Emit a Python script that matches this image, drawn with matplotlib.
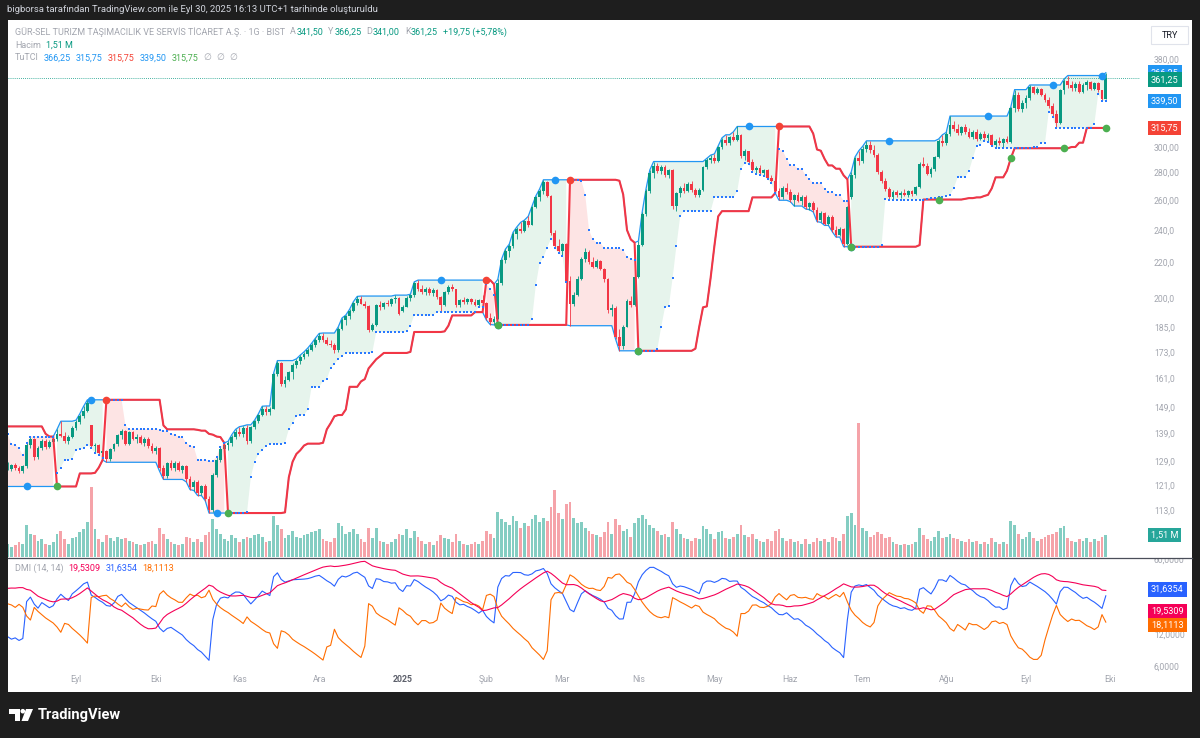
import numpy as np
import pandas as pd
import matplotlib
matplotlib.use("Agg")
import matplotlib.pyplot as plt
from matplotlib.patches import Rectangle, Polygon, Ellipse
from matplotlib.lines import Line2D
from matplotlib.transforms import blended_transform_factory, offset_copy

plt.rcParams["font.family"] = ["Roboto", "DejaVu Sans"]

# ---------------- data (daily bars, first 12 are warm-up bars left of the view) ----------------
WARMUP = 12

opens = [
    136.0, 137.4, 139.0, 138.4, 134.6, 133.2, 132.4, 130.2, 127.8, 125.4, 123.6, 122.0,
    126.2, 126.4, 127.6, 126.5, 125.6, 127.2, 134.6, 136.9, 130.6, 133.8,
    136.2, 134.0, 135.8, 136.8, 138.6, 138.0, 136.2, 137.8, 141.0, 143.4,
    145.8, 147.5, 142.0, 134.2, 134.8, 131.8, 132.5, 129.8, 133.2, 135.0,
    138.2, 139.8, 135.2, 139.5, 137.0, 137.8, 135.6, 137.0, 134.3, 132.6,
    133.6, 126.5, 123.8, 128.2, 126.5, 128.4, 126.0, 127.2, 122.8, 120.2,
    121.8, 118.3, 120.5, 116.5, 113.0, 124.2, 129.5, 133.2, 134.8, 135.4,
    137.8, 139.6, 138.6, 141.0, 136.0, 141.2, 143.5, 146.0, 148.4, 147.0,
    148.5, 162.8, 167.8, 158.6, 160.5, 163.8, 167.2, 168.8, 170.6, 172.2,
    174.0, 176.4, 178.8, 180.6, 178.4, 176.8, 176.2, 173.8, 184.2, 188.6,
    190.4, 193.2, 197.2, 199.6, 197.0, 195.6, 183.4, 186.2, 196.2, 195.0,
    197.4, 196.6, 199.2, 200.2, 193.2, 195.4, 200.2, 201.4, 208.0, 205.0,
    203.2, 205.0, 202.6, 204.4, 200.5, 196.0, 203.4, 206.2, 204.6, 196.0,
    198.8, 197.8, 199.2, 197.6, 196.4, 198.8, 197.2, 189.6, 187.4, 189.2,
    208.0, 221.2, 226.8, 229.8, 237.6, 240.6, 239.2, 245.8, 243.4, 255.2,
    262.0, 266.4, 272.8, 263.0, 238.0, 230.2, 227.0, 231.2, 209.5, 196.5,
    201.8, 210.6, 221.8, 226.2, 220.4, 217.6, 220.8, 216.4, 210.2, 193.5,
    194.8, 180.2, 175.6, 185.2, 198.6, 196.2, 211.5, 230.8, 250.5, 266.8,
    279.4, 285.2, 281.0, 284.6, 278.0, 281.8, 256.0, 264.8, 268.8, 266.2,
    271.6, 267.4, 263.8, 267.0, 284.2, 289.6, 291.0, 289.2, 300.2, 305.6,
    303.0, 307.8, 306.0, 310.2, 293.0, 296.4, 288.0, 282.2, 283.8, 279.6,
    281.8, 276.2, 274.0, 266.6, 262.4, 268.6, 266.0, 260.2, 263.4, 259.6,
    262.6, 255.2, 257.8, 253.4, 246.6, 251.4, 244.2, 248.8, 240.2, 236.8,
    240.8, 231.0, 262.0, 278.5, 291.2, 288.6, 298.4, 302.0, 297.2, 293.6,
    280.2, 274.0, 268.0, 262.6, 265.8, 263.4, 265.2, 264.0, 266.2, 264.4,
    269.2, 286.6, 285.2, 279.2, 283.0, 292.2, 305.2, 303.0, 310.8, 318.4,
    315.0, 311.2, 316.6, 312.4, 308.2, 312.6, 306.2, 310.4, 307.4, 309.8,
    301.8, 305.2, 303.0, 306.2, 304.4, 333.0, 344.6, 332.4, 337.8, 342.6,
    352.2, 347.2, 351.0, 345.4, 340.2, 334.6, 327.4, 320.2, 349.6, 357.8,
    354.6, 351.2, 355.6, 348.2, 354.4, 357.6, 351.0, 356.2, 349.2, 341.5,
]

highs = [
    138.0, 139.8, 141.6, 138.8, 135.0, 134.8, 133.5, 131.0, 128.6, 126.8, 124.6, 127.0,
    128.6, 128.0, 128.4, 127.3, 127.8, 135.5, 137.8, 137.2, 134.5, 136.8,
    137.0, 136.5, 137.6, 140.5, 143.6, 139.5, 138.5, 141.8, 144.0, 146.5,
    149.5, 152.1, 142.0, 135.5, 135.2, 133.0, 133.0, 133.8, 135.5, 138.8,
    140.5, 140.3, 140.0, 140.0, 138.8, 138.5, 137.8, 137.6, 135.5, 134.5,
    134.0, 127.5, 128.8, 129.5, 129.0, 129.0, 127.8, 127.6, 123.8, 122.6,
    122.5, 121.0, 121.2, 117.3, 124.8, 130.5, 134.0, 135.5, 136.0, 138.5,
    140.5, 141.5, 141.8, 142.2, 141.8, 144.0, 146.5, 149.5, 149.6, 149.0,
    163.4, 169.0, 168.5, 162.0, 164.5, 168.0, 169.8, 171.5, 173.0, 174.8,
    177.0, 179.5, 181.8, 182.0, 180.0, 178.6, 177.0, 185.0, 189.5, 191.0,
    194.0, 198.0, 200.8, 201.0, 198.5, 196.0, 187.0, 197.0, 198.5, 198.0,
    199.0, 199.8, 201.5, 200.6, 196.0, 201.0, 202.0, 208.8, 209.8, 207.0,
    205.8, 206.0, 205.2, 205.0, 201.0, 204.0, 207.0, 207.5, 205.0, 199.5,
    200.5, 200.0, 200.2, 199.5, 199.6, 201.5, 198.0, 192.0, 190.5, 210.2,
    222.0, 228.0, 231.0, 238.5, 242.0, 245.0, 246.5, 249.0, 256.0, 263.0,
    268.0, 274.7, 274.0, 264.0, 240.0, 234.0, 231.5, 232.0, 212.0, 203.0,
    212.0, 223.0, 228.5, 227.5, 223.5, 222.0, 221.5, 217.0, 211.0, 196.5,
    195.5, 184.0, 186.0, 199.5, 201.0, 212.5, 233.0, 252.0, 268.0, 282.0,
    288.5, 287.5, 286.0, 285.5, 283.0, 283.0, 266.0, 270.5, 272.0, 272.8,
    273.5, 269.0, 268.5, 285.0, 291.0, 293.5, 294.5, 301.0, 307.5, 310.0,
    309.0, 312.5, 317.0, 311.0, 298.0, 297.0, 290.5, 285.0, 285.5, 283.0,
    283.0, 278.0, 275.0, 268.5, 270.0, 272.5, 268.0, 264.5, 266.0, 263.8,
    264.0, 259.0, 259.5, 255.0, 252.5, 252.0, 250.0, 250.0, 242.5, 242.0,
    241.5, 256.0, 280.5, 292.0, 297.0, 300.5, 305.0, 304.8, 301.5, 295.0,
    282.0, 276.0, 269.5, 267.0, 267.5, 266.5, 268.0, 267.0, 267.5, 270.0,
    288.0, 292.0, 287.0, 284.5, 293.0, 306.5, 310.0, 312.0, 326.0, 321.5,
    319.0, 317.5, 319.5, 316.0, 314.0, 315.0, 312.0, 313.0, 311.5, 310.5,
    306.5, 308.0, 307.0, 309.0, 334.0, 350.0, 348.0, 340.0, 345.0, 354.4,
    353.5, 352.5, 352.0, 347.0, 343.5, 338.0, 331.0, 350.5, 360.0, 363.5,
    358.5, 357.0, 358.0, 356.0, 359.5, 358.5, 357.5, 357.0, 350.0, 366.25,
]

lows = [
    135.2, 136.5, 137.8, 134.0, 132.0, 131.5, 129.6, 127.2, 124.8, 123.0, 121.0, 120.5,
    125.8, 125.5, 126.0, 124.8, 125.0, 126.8, 133.5, 129.4, 129.8, 133.0,
    133.2, 133.5, 134.8, 136.0, 137.5, 135.5, 135.2, 137.2, 140.2, 142.5,
    145.0, 147.0, 133.5, 132.0, 131.2, 130.0, 128.6, 129.2, 132.5, 134.5,
    137.0, 134.6, 134.8, 136.5, 135.5, 135.0, 134.5, 133.8, 132.0, 131.5,
    125.5, 122.8, 123.2, 125.8, 125.6, 125.5, 124.8, 122.0, 119.5, 119.2,
    117.6, 117.8, 116.0, 112.2, 112.4, 123.5, 128.8, 131.5, 132.8, 134.5,
    136.8, 138.0, 137.8, 135.2, 135.5, 140.5, 142.8, 145.5, 146.2, 146.0,
    148.2, 162.0, 157.8, 157.5, 159.8, 160.8, 165.5, 167.5, 169.6, 171.0,
    173.2, 175.5, 177.5, 177.8, 176.0, 175.5, 172.5, 173.0, 183.5, 186.0,
    189.2, 192.5, 196.0, 196.5, 194.8, 182.5, 182.8, 185.6, 193.6, 194.2,
    195.8, 195.5, 197.5, 190.8, 192.8, 195.0, 198.5, 200.6, 204.0, 202.2,
    201.5, 201.8, 201.0, 199.5, 192.5, 195.5, 202.0, 203.5, 195.2, 195.0,
    197.0, 196.5, 196.8, 195.8, 195.5, 196.0, 188.4, 186.2, 186.0, 188.8,
    207.0, 219.5, 223.0, 229.0, 234.5, 238.0, 238.5, 242.0, 243.0, 254.5,
    259.5, 264.5, 262.0, 236.8, 228.5, 225.5, 224.0, 208.5, 185.6, 195.5,
    201.0, 210.0, 220.0, 219.0, 216.5, 216.8, 215.5, 209.0, 192.0, 190.5,
    179.0, 173.5, 174.5, 185.0, 195.0, 195.5, 211.0, 230.0, 249.0, 265.0,
    276.0, 279.5, 278.8, 276.5, 276.0, 254.0, 252.5, 262.0, 265.0, 265.5,
    266.0, 262.5, 262.0, 266.5, 283.0, 287.0, 287.5, 288.5, 298.5, 302.0,
    301.5, 304.5, 304.8, 291.5, 290.0, 286.5, 280.5, 279.0, 278.5, 277.5,
    275.0, 272.0, 265.0, 260.0, 261.0, 264.5, 259.0, 256.0, 258.5, 257.0,
    254.0, 253.5, 252.0, 245.5, 245.0, 243.0, 243.5, 239.0, 235.5, 236.0,
    229.5, 230.5, 261.0, 276.0, 286.0, 287.5, 296.0, 295.5, 292.0, 279.0,
    272.0, 266.5, 260.5, 261.0, 262.5, 261.5, 263.0, 262.0, 263.0, 263.8,
    268.5, 284.0, 278.0, 276.5, 281.5, 291.0, 301.0, 302.0, 309.0, 313.5,
    309.5, 310.0, 311.0, 307.0, 306.5, 305.0, 305.5, 306.0, 304.0, 300.5,
    299.0, 301.5, 300.0, 303.5, 303.5, 330.0, 330.5, 330.0, 333.0, 340.0,
    346.0, 345.5, 344.0, 339.0, 333.0, 325.0, 315.75, 319.5, 346.0, 352.0,
    349.0, 348.5, 346.5, 347.0, 350.0, 349.5, 350.0, 347.5, 339.5, 341.0,
]

closes = [
    137.4, 139.0, 138.4, 134.6, 133.2, 132.4, 130.2, 127.8, 125.4, 123.6, 122.0, 126.2,
    126.4, 127.6, 126.5, 125.6, 127.2, 134.6, 136.9, 130.6, 133.8, 136.2,
    134.0, 135.8, 136.8, 138.6, 138.0, 136.2, 137.8, 141.0, 143.4, 145.8,
    147.5, 150.8, 134.2, 134.8, 131.8, 132.5, 129.8, 133.2, 135.0, 138.2,
    139.8, 135.2, 139.5, 137.0, 137.8, 135.6, 137.0, 134.3, 132.6, 133.6,
    126.5, 123.8, 128.2, 126.5, 128.4, 126.0, 127.2, 122.8, 120.2, 121.8,
    118.3, 120.5, 116.5, 113.0, 124.2, 129.5, 133.2, 134.8, 135.4, 137.8,
    139.6, 138.6, 141.0, 136.0, 141.2, 143.5, 146.0, 148.4, 147.0, 148.5,
    162.8, 167.8, 158.6, 160.5, 163.8, 167.2, 168.8, 170.6, 172.2, 174.0,
    176.4, 178.8, 180.6, 178.4, 176.8, 176.2, 173.8, 184.2, 188.6, 190.4,
    193.2, 197.2, 199.6, 197.0, 195.6, 183.4, 186.2, 196.2, 195.0, 197.4,
    196.6, 199.2, 200.2, 191.6, 195.4, 200.2, 201.4, 208.0, 205.0, 203.2,
    205.0, 202.6, 204.4, 200.5, 196.0, 203.4, 206.2, 204.6, 196.0, 198.8,
    197.8, 199.2, 197.6, 196.4, 198.8, 197.2, 189.6, 187.4, 189.2, 208.0,
    221.2, 226.8, 229.8, 237.6, 240.6, 239.2, 245.8, 243.4, 255.2, 262.0,
    266.4, 272.8, 263.0, 238.0, 230.2, 227.0, 231.2, 209.5, 196.5, 201.8,
    210.6, 221.8, 226.2, 220.4, 217.6, 220.8, 216.4, 210.2, 193.5, 194.8,
    180.2, 175.6, 185.2, 198.6, 196.2, 211.5, 230.8, 250.5, 266.8, 279.4,
    285.2, 281.0, 284.6, 278.0, 281.8, 256.0, 264.8, 268.8, 266.2, 271.6,
    267.4, 263.8, 267.0, 284.2, 289.6, 291.0, 289.2, 300.2, 305.6, 303.0,
    307.8, 306.0, 310.2, 293.0, 296.4, 288.0, 282.2, 283.8, 279.6, 281.8,
    276.2, 274.0, 266.6, 262.4, 268.6, 266.0, 260.2, 263.4, 259.6, 262.6,
    255.2, 257.8, 253.4, 246.6, 251.4, 244.2, 248.8, 240.2, 236.8, 240.8,
    231.0, 255.0, 278.5, 291.2, 288.6, 298.4, 302.0, 297.2, 293.6, 280.2,
    274.0, 268.0, 262.6, 265.8, 263.4, 265.2, 264.0, 266.2, 264.4, 269.2,
    286.6, 285.2, 279.2, 283.0, 292.2, 305.2, 303.0, 310.8, 318.4, 315.0,
    311.2, 316.6, 312.4, 308.2, 312.6, 306.2, 310.4, 307.4, 309.8, 301.8,
    305.2, 303.0, 306.2, 304.4, 333.0, 344.6, 332.4, 337.8, 342.6, 352.2,
    347.2, 351.0, 345.4, 340.2, 334.6, 327.4, 320.2, 349.6, 357.8, 354.6,
    351.2, 355.6, 348.2, 354.4, 357.6, 351.0, 356.2, 349.2, 341.5, 361.25,
]

# volume in millions
volumes = [
    1.2, 1.4, 1.3, 1.5, 1.1, 1.0, 1.3, 1.4, 1.2, 1.1, 1.3, 1.6,
    0.9, 0.7, 0.8, 1.0, 0.9, 2.2, 1.6, 1.5, 1.1, 1.2,
    0.9, 0.8, 1.0, 1.6, 1.8, 1.2, 0.9, 1.3, 1.4, 1.7,
    1.9, 2.4, 4.8, 1.9, 1.2, 1.0, 1.5, 1.3, 1.1, 1.4,
    1.2, 1.3, 1.1, 1.0, 0.9, 0.8, 0.9, 1.0, 1.1, 0.9,
    2.0, 1.6, 1.2, 1.0, 0.9, 0.8, 0.9, 1.4, 1.3, 1.0,
    1.2, 1.0, 1.5, 1.7, 2.6, 1.9, 1.6, 1.2, 1.1, 1.5,
    1.3, 1.0, 1.2, 1.4, 1.3, 1.5, 1.6, 1.4, 1.0, 1.1,
    2.8, 2.2, 1.9, 1.3, 1.5, 1.8, 1.4, 1.3, 1.5, 1.6,
    1.7, 1.8, 1.9, 1.2, 1.1, 1.0, 1.3, 2.3, 2.1, 1.6,
    1.7, 1.9, 1.6, 1.2, 1.0, 2.0, 1.3, 2.0, 1.1, 1.0,
    0.9, 1.0, 1.2, 1.6, 1.5, 1.9, 1.3, 1.8, 1.4, 1.1,
    0.9, 1.0, 0.8, 1.1, 1.5, 1.3, 1.2, 1.0, 1.6, 1.1,
    0.9, 0.8, 0.9, 1.0, 0.9, 1.1, 1.8, 1.6, 1.3, 3.1,
    2.6, 2.4, 2.2, 2.8, 2.5, 2.0, 2.3, 2.1, 2.6, 2.9,
    2.4, 2.7, 2.5, 3.4, 4.6, 3.0, 2.6, 3.6, 3.8, 2.7,
    2.3, 2.4, 2.0, 1.8, 1.6, 1.5, 1.4, 1.7, 2.4, 1.6,
    2.6, 2.2, 1.8, 1.9, 1.4, 2.3, 2.7, 2.9, 2.6, 2.2,
    2.0, 1.8, 1.5, 1.6, 1.4, 2.4, 1.9, 1.6, 1.3, 1.2,
    1.1, 1.3, 1.2, 2.1, 1.9, 1.6, 1.2, 1.7, 1.8, 1.3,
    1.2, 1.4, 1.6, 2.2, 1.5, 1.4, 1.6, 1.2, 1.1, 1.0,
    1.2, 1.1, 1.8, 1.9, 1.3, 1.1, 1.2, 1.0, 1.1, 0.9,
    1.2, 0.9, 1.0, 1.3, 1.1, 1.2, 1.0, 1.4, 1.3, 1.1,
    1.6, 2.8, 3.0, 2.2, 9.2, 2.0, 1.8, 1.4, 1.5, 1.7,
    1.6, 1.3, 1.4, 1.0, 0.9, 0.8, 0.9, 0.8, 0.9, 1.0,
    2.0, 1.5, 1.2, 1.1, 1.4, 1.8, 1.3, 1.4, 1.6, 1.3,
    1.2, 1.1, 1.0, 1.2, 1.0, 1.1, 0.9, 1.0, 0.9, 1.3,
    1.0, 0.9, 1.0, 0.9, 2.5, 2.2, 1.6, 1.2, 1.4, 1.7,
    1.3, 1.1, 1.2, 1.4, 1.5, 1.6, 1.7, 2.0, 2.1, 1.3,
    1.1, 1.0, 1.2, 1.1, 1.3, 1.0, 1.2, 1.1, 1.4, 1.51,
]

holidays = ["2024-08-30", "2024-10-29", "2025-01-01", "2025-03-31", "2025-04-01",
            "2025-04-23", "2025-05-01", "2025-05-19", "2025-06-06", "2025-06-09",
            "2025-07-15"]
month_labels = ["Eyl", "Eki", "Kas", "Ara", "2025", "Şub", "Mar", "Nis",
                "May", "Haz", "Tem", "Ağu", "Eyl", "Eki"]

price_ticks = [113, 121, 129, 139, 149, 161, 173, 185, 200, 220, 240, 260, 280, 300, 380]
price_tick_labels = ["113,0", "121,0", "129,0", "139,0", "149,0", "161,0", "173,0", "185,0",
                     "200,0", "220,0", "240,0", "260,00", "280,00", "300,00", "380,00"]
dmi_ticks = [6, 12, 60]
dmi_tick_labels = ["6,0000", "12,0000", "60,0000"]

title_text = "bigborsa tarafından TradingView.com ile Eyl 30, 2025 16:13 UTC+1 tarihinde oluşturuldu"
symbol_text = "GÜR-SEL TURIZM TAŞIMACILIK VE SERVİS TİCARET A.Ş. · 1G · BIST"
ohlc_pairs = [("A", "341,50"), ("Y", "366,25"), ("D", "341,00"), ("K", "361,25")]
change_text = "+19,75 (+5,78%)"
volume_text = "1,51 M"
last_volume = 1.51
tutci_texts = ["366,25", "315,75", "315,75", "339,50", "315,75"]
price_tags = [(366.25, "366,25"), (361.25, "361,25"), (339.50, "339,50"), (315.75, "315,75")]
dmi_values = [19.5309, 31.6354, 18.1113]   # ADX, +DI, -DI
dmi_texts = ["19,5309", "31,6354", "18,1113"]

# ---------------- colours ----------------
GREEN = "#089981"
RED = "#f23645"
BLUE = "#2196f3"
GREY = "#a3a6af"
C_ADX = "#f50057"
C_PDI = "#2962ff"
C_MDI = "#ff6d00"

# ---------------- indicators ----------------
o = np.array(opens)
h = np.array(highs)
l = np.array(lows)
c = np.array(closes)
v = np.array(volumes)
n = len(c)
x = np.arange(n) - WARMUP

hs, ls, cs = pd.Series(h), pd.Series(l), pd.Series(c)
up = hs.rolling(20, min_periods=1).max().to_numpy()
down = ls.rolling(20, min_periods=1).min().to_numpy()
sup = hs.rolling(10, min_periods=1).max().to_numpy()
sdown = ls.rolling(10, min_periods=1).min().to_numpy()

K1 = np.empty(n)
K2 = np.empty(n)
trend_up = np.zeros(n, dtype=bool)
last_up = last_dn = None
long_on = short_on = False
green_pts, red_pts, blue_up_pts, blue_dn_pts = [], [], [], []
for i in range(n):
    buy = sell = bexit = sexit = False
    if i > 0:
        buy = h[i] >= up[i - 1]
        sell = l[i] <= down[i - 1]
        bexit = l[i] <= sdown[i - 1]
        sexit = h[i] >= sup[i - 1]
    if buy:
        last_up = i
    if sell:
        last_dn = i
    is_up = last_up is not None and (last_dn is None or last_up >= last_dn)
    trend_up[i] = is_up
    K1[i] = down[i] if is_up else up[i]
    K2[i] = sdown[i] if is_up else sup[i]
    if long_on and bexit:
        blue_up_pts.append(i)
        long_on = False
    if buy and not long_on:
        green_pts.append(i)
        long_on = True
    if short_on and sexit:
        blue_dn_pts.append(i)
        short_on = False
    if sell and not short_on:
        red_pts.append(i)
        short_on = True

# DMI (14, 14), Wilder smoothing
pc = cs.shift(1)
tr = pd.concat([hs - ls, (hs - pc).abs(), (ls - pc).abs()], axis=1).max(axis=1)
upm = hs.diff()
dnm = -ls.diff()
plus_dm = pd.Series(np.where((upm > dnm) & (upm > 0), upm, 0.0))
minus_dm = pd.Series(np.where((dnm > upm) & (dnm > 0), dnm, 0.0))
rma = lambda s: s.ewm(alpha=1 / 14, adjust=False).mean()
atr = rma(tr)
pdi = 100 * rma(plus_dm) / atr
mdi = 100 * rma(minus_dm) / atr
dx = (100 * (pdi - mdi).abs() / (pdi + mdi)).fillna(0)
adx = rma(dx)

# dates and month ticks
dates = pd.bdate_range("2024-08-06", "2025-09-30", freq="C", holidays=holidays)
month_starts = [i for i in range(1, len(dates)) if dates[i].month != dates[i - 1].month]
month_starts.append(len(dates))

# ---------------- figure ----------------
W, H = 1200, 738
fig = plt.figure(figsize=(12, 7.38), dpi=100, facecolor="#1e1e1e")


def fxy(px, py):
    return px / W, 1 - py / H


fig.patches.append(Rectangle(fxy(8, 692), 1184 / W, 672 / H, transform=fig.transFigure,
                             facecolor="white", edgecolor="none", zorder=-10))

x0, x1 = 0.1, 298.0
ax_vol = fig.add_axes([8 / W, 1 - 557 / H, 1132 / W, 537 / H], zorder=1)
ax = fig.add_axes([8 / W, 1 - 557 / H, 1132 / W, 537 / H], zorder=2)
ax_dmi = fig.add_axes([8 / W, 1 - 692 / H, 1132 / W, 134 / H], zorder=2)
for a in (ax_vol, ax, ax_dmi):
    a.set_facecolor("none")
    for s in a.spines.values():
        s.set_visible(False)
    a.set_xlim(x0, x1)
    a.set_xticks([])

# volume
up_bar = c >= o
ax_vol.bar(x, v, width=0.7, color=np.where(up_bar, "#84cdc2", "#f5a3a9"), linewidth=0)
ax_vol.set_ylim(0, 36.8)
ax_vol.set_yticks([])

# price pane
ax.set_yscale("log")
ax.set_ylim(99.7, 422)
ax.fill_between(x, up, K2, where=trend_up, color="#e6f4ec", linewidth=0, zorder=1)
ax.fill_between(x, down, K2, where=~trend_up, color="#fde4e4", linewidth=0, zorder=1)
ax.plot(x, up, color=BLUE, lw=0.9, zorder=2)
ax.plot(x, down, color=BLUE, lw=0.9, zorder=2)

cc = np.where(up_bar, GREEN, RED)
ax.vlines(x, l, h, colors=cc, lw=0.6, zorder=3)
ax.bar(x, np.maximum(np.abs(c - o), 0.25), bottom=np.minimum(o, c), width=0.7,
       color=cc, linewidth=0, zorder=3)

ax.plot(x, K1, color=RED, lw=1.5, zorder=4)
ax.plot(x, K2, ls="none", marker="s", ms=1.5, mew=0, color="#2979ff", zorder=4)

gi = np.array(green_pts, dtype=int)
ri = np.array(red_pts, dtype=int)
bu = np.array(blue_up_pts, dtype=int)
bd = np.array(blue_dn_pts, dtype=int)
ax.plot(x[bu], up[bu], "o", ms=5.5, mew=0, color=BLUE, zorder=5)
ax.plot(x[bd], down[bd], "o", ms=5.5, mew=0, color=BLUE, zorder=5)
ax.plot(x[gi], down[gi], "o", ms=5.5, mew=0, color="#4caf50", zorder=5)
ax.plot(x[ri], up[ri], "o", ms=5.5, mew=0, color="#f44336", zorder=5)

ax.axhline(c[-1], color=GREEN, lw=0.6, ls=(0, (1, 1.5)), zorder=2)

ax.yaxis.tick_right()
ax.set_yticks(price_ticks, labels=price_tick_labels)
ax.set_yticks([], minor=True)
ax.tick_params(axis="y", which="both", length=0, pad=10, labelsize=6.2, labelcolor=GREY)

# DMI pane
ax_dmi.set_yscale("log")
ax_dmi.set_ylim(3.42, 62.2)
ax_dmi.plot(x, pdi, color=C_PDI, lw=0.8)
ax_dmi.plot(x, mdi, color=C_MDI, lw=0.8)
ax_dmi.plot(x, adx, color=C_ADX, lw=0.8)
ax_dmi.yaxis.tick_right()
ax_dmi.set_yticks(dmi_ticks, labels=dmi_tick_labels)
ax_dmi.set_yticks([], minor=True)
ax_dmi.tick_params(axis="y", which="both", length=0, pad=10, labelsize=6.2, labelcolor=GREY)

tb = blended_transform_factory(ax_dmi.transData, ax_dmi.transAxes)
for pos, lab in zip(month_starts, month_labels):
    bold = lab == "2025"
    ax_dmi.text(pos, 0.09, lab, transform=tb, ha="center", va="center", fontsize=6.3,
                color="#5d606b" if bold else GREY, fontweight="bold" if bold else "normal")

# price scale strip above the pane separator hides the top half of the "60,0000" label
fig.add_artist(Rectangle(fxy(1140, 557.5), 52 / W, 12 / H, transform=fig.transFigure,
                         facecolor="white", edgecolor="none", zorder=3))
# separator between panes
fig.add_artist(Line2D([8 / W, 1192 / W], [1 - 557.5 / H] * 2, color="#4a4e59", lw=0.9,
                      zorder=4))


# right-hand value tags
def tag(axis, value, text, color, dy=0):
    tr_ = blended_transform_factory(axis.transAxes, axis.transData)
    if dy:
        tr_ = offset_copy(tr_, fig=fig, y=dy, units="dots")
    axis.text(1 + 11 / 1132, value, text, transform=tr_, ha="left", va="center",
              fontsize=6.6, color="white", zorder=10, clip_on=False,
              bbox=dict(boxstyle="square,pad=0.32", fc=color, ec="none"))


tag(ax, price_tags[0][0], price_tags[0][1], BLUE)
tag(ax, price_tags[1][0], price_tags[1][1], GREEN, dy=-2)
tag(ax, price_tags[2][0], price_tags[2][1], BLUE)
tag(ax, price_tags[3][0], price_tags[3][1], "#f44336")
tag(ax_vol, last_volume, volume_text, "#26a69a")
tag(ax_dmi, dmi_values[1], dmi_texts[1], C_PDI)
tag(ax_dmi, dmi_values[0], dmi_texts[0], C_ADX)
tag(ax_dmi, dmi_values[2], dmi_texts[2], C_MDI, dy=-10)

# header texts
renderer = fig.canvas.get_renderer()


def text_run(px, py, parts, size=6.5):
    xp = px
    for s, col, gap in parts:
        t = fig.text(xp / W, 1 - py / H, s, color=col, fontsize=size, va="center", ha="left")
        xp += t.get_window_extent(renderer).width + gap


fig.text(7 / W, 1 - 10 / H, title_text, color="#d1d4dc", fontsize=6.8, va="center", ha="left")

parts = [(symbol_text, GREY, 5)]
for letter, val in ohlc_pairs:
    parts += [(letter, GREY, 0.5), (val, GREEN, 5)]
parts.append((change_text, GREEN, 0))
text_run(15, 32, parts)
text_run(15, 45, [("Hacim", GREY, 5), (volume_text, GREEN, 0)])
tut_cols = [BLUE, BLUE, "#f44336", BLUE, "#4caf50"]
text_run(15, 58, [("TuTCI", GREY, 5)] + [(t, col, 5) for t, col in zip(tutci_texts, tut_cols)]
         + [("∅", GREY, 5), ("∅", GREY, 5), ("∅", GREY, 0)])
text_run(15, 568, [("DMI (14, 14)", GREY, 5), (dmi_texts[0], C_ADX, 5),
                   (dmi_texts[1], C_PDI, 5), (dmi_texts[2], C_MDI, 0)])

# currency box
fig.patches.append(Rectangle(fxy(1151, 44), 37 / W, 18 / H, transform=fig.transFigure,
                             facecolor="white", edgecolor="#e0e3eb", lw=0.8, zorder=3))
fig.text(1169.5 / W, 1 - 35 / H, "TRY", color="#131722", fontsize=6.5, ha="center", va="center")

# TradingView logo
fig.patches.append(Polygon([fxy(9, 709), fxy(19.5, 709), fxy(19.5, 721), fxy(15, 721),
                            fxy(15, 713.5), fxy(9, 713.5)], closed=True,
                           transform=fig.transFigure, fc="white", ec="none"))
fig.patches.append(Ellipse(fxy(22.8, 711.2), 4.6 / W, 4.6 / H, transform=fig.transFigure,
                           fc="white", ec="none"))
fig.patches.append(Polygon([fxy(26, 709), fxy(33, 709), fxy(28, 721), fxy(21.5, 721)],
                           closed=True, transform=fig.transFigure, fc="white", ec="none"))
fig.text(38 / W, 1 - 715 / H, "TradingView", color="white", fontsize=10.5,
         fontweight="bold", va="center", ha="left")

fig.savefig("out.png", dpi=100, facecolor=fig.get_facecolor())
